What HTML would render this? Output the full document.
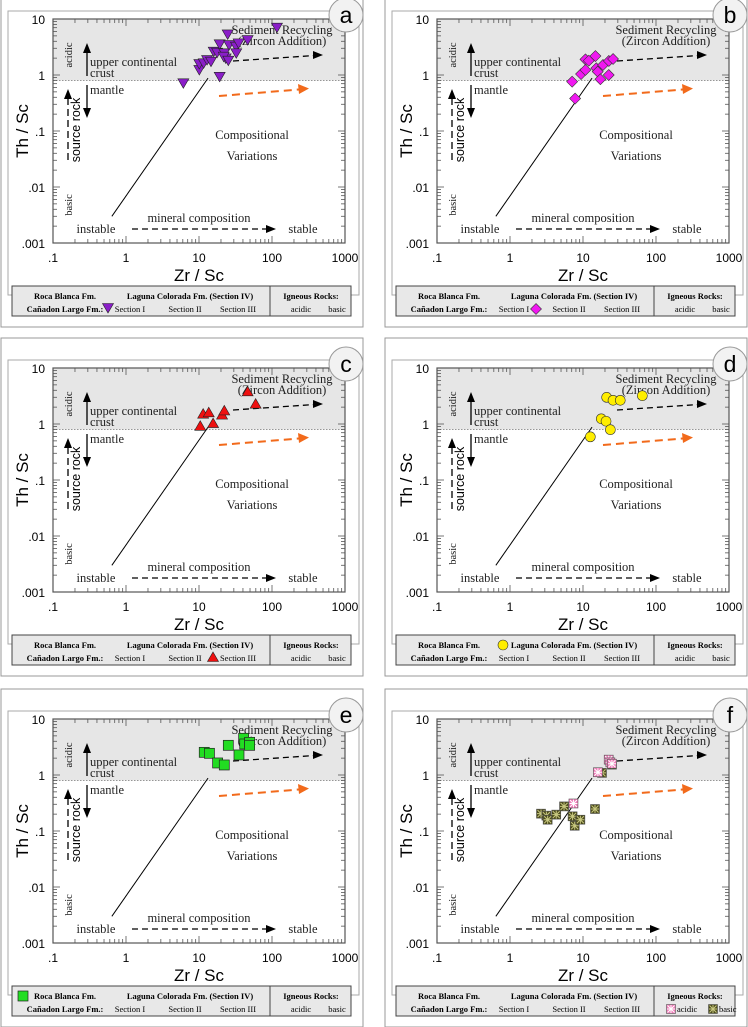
<!DOCTYPE html>
<html><head><meta charset="utf-8">
<style>
html,body{margin:0;padding:0;background:#fff;}
svg{display:block;}
.ser{font-family:"Liberation Serif",serif;}
.san{font-family:"Liberation Sans",sans-serif;}
</style></head>
<body>
<svg id="fig" width="748" height="1027" viewBox="0 0 748 1027" xmlns="http://www.w3.org/2000/svg"></svg>
<script>
// ---- data (Zr/Sc, Th/Sc) ----
const xTicks = [0.1, 1, 10, 100, 1000];
const xTickLabels = [".1", "1", "10", "100", "1000"];
const yTicks = [10, 1, 0.1, 0.01, 0.001];
const yTickLabels = ["10", "1", ".1", ".01", ".001"];
const bandLimit = 0.8;
const trendX = [0.64, 13.3];
const trendY = [0.003, 0.88];

const aX = [6.1,19.2,10.1,10.1,11.6,12.9,14.6,15.9,17.7,19.2,22.2,23.2,21.8,25.2,24.7,25.8,32.1,32.4,34.9,46.4,117];
const aY = [0.71,0.93,1.23,1.57,1.62,1.85,1.73,2.61,2.5,3.53,2.44,1.98,2.12,1.8,5.3,3.43,3.2,2.44,3.67,4.2,7.0];
const bX = [7.1,7.8,9.4,10.8,10.8,12.0,14.8,15.2,15.9,17.3,18.8,22.5,22.6,25.8];
const bY = [0.76,0.38,1.04,1.23,1.9,1.8,2.18,1.32,1.15,0.84,1.51,1.0,1.78,1.93];
const cX = [10.4,11.4,13.6,15.6,20.7,22.2,46.4,59.7];
const cY = [0.93,1.53,1.62,1.04,1.47,1.75,3.83,2.31];
const dX = [12.6,17.8,20.7,23.7,21.1,25.8,32.4,65];
const dY = [0.59,1.24,1.12,0.79,2.99,2.65,2.65,3.2];
const eX = [11.8,13.9,18.0,22.2,25.2,35.3,40.9,42.3,49.4,49.4];
const eY = [2.54,2.44,1.64,1.51,3.39,2.28,4.52,3.58,3.83,3.39];
const fAcidX = [7.4,16.0,22.5,23.7,24.9];
const fAcidY = [0.31,1.12,1.88,1.68,1.59];
const fBasicX = [2.66,3.15,3.28,4.3,5.5,7.2,7.7,9.2,14.6,18.2,24.9];
const fBasicY = [0.204,0.188,0.159,0.196,0.275,0.183,0.124,0.159,0.247,1.09,1.53];

const NS = "http://www.w3.org/2000/svg";
const svg = document.getElementById("fig");
function mk(parent, tag, attrs, text) {
  const el = document.createElementNS(NS, tag);
  for (const k in attrs) el.setAttribute(k, attrs[k]);
  if (text !== undefined) el.textContent = text;
  parent.appendChild(el);
  return el;
}
const W = 292, H = 224;
function sx(v) { return (Math.log10(v) + 1) / 4 * W; }
function sy(v) { return (1 - Math.log10(v)) / 4 * H; }

function marker(g, type, cx, cy) {
  let el;
  if (type === "tri") {
    el = mk(g, "polygon", {points: `${cx-5.5},${cy-4.5} ${cx+5.5},${cy-4.5} ${cx},${cy+5}`, fill: "#8a1ec8", stroke: "#222", "stroke-width": 0.6});
  } else if (type === "dia") {
    el = mk(g, "polygon", {points: `${cx},${cy-5.5} ${cx+5.5},${cy} ${cx},${cy+5.5} ${cx-5.5},${cy}`, fill: "#f018f0", stroke: "#333", "stroke-width": 0.6});
  } else if (type === "utri") {
    el = mk(g, "polygon", {points: `${cx-5.5},${cy+4.5} ${cx+5.5},${cy+4.5} ${cx},${cy-5}`, fill: "#ee1010", stroke: "#222", "stroke-width": 0.6});
  } else if (type === "circ") {
    el = mk(g, "circle", {cx: cx, cy: cy, r: 5, fill: "#ffee00", stroke: "#333", "stroke-width": 0.6});
  } else if (type === "sq") {
    el = mk(g, "rect", {x: cx-5, y: cy-5, width: 10, height: 10, fill: "#22dd22", stroke: "#222", "stroke-width": 0.7});
  } else {
    const fill = type === "acid" ? "#f07ab8" : "#4a4a1a";
    const ln = type === "acid" ? "#fff" : "#c8c880";
    el = mk(g, "g", {});
    mk(el, "rect", {x: cx-4.5, y: cy-4.5, width: 9, height: 9, fill: fill, stroke: "#555", "stroke-width": 0.6});
    mk(el, "path", {d: `M${cx-3.5},${cy-3.5}L${cx+3.5},${cy+3.5}M${cx+3.5},${cy-3.5}L${cx-3.5},${cy+3.5}M${cx},${cy-4}V${cy+4}M${cx-4},${cy}H${cx+4}`, stroke: ln, "stroke-width": 1});
  }
  return el;
}

function arrowHead(g, x, y, dir, color) {
  let pts;
  if (dir === "r") pts = `${x},${y} ${x-10},${y-4} ${x-10},${y+4}`;
  else if (dir === "u") pts = `${x},${y} ${x-4},${y+10} ${x+4},${y+10}`;
  else pts = `${x},${y} ${x-4},${y-10} ${x+4},${y-10}`;
  return mk(g, "polygon", {points: pts, fill: color});
}

function panel(ox, oy, letter, series, legendMarks) {
  const g = mk(svg, "g", {transform: `translate(${ox},${oy})`});
  
  

  const outer = mk(g, "rect", {x: -52, y: -30, width: 362, height: 338, fill: "none", stroke: "#999", "stroke-width": 1});
  
  
  const inner = mk(g, "rect", {x: -45, y: -8, width: 351, height: 284, fill: "#fff", stroke: "#aaa", "stroke-width": 1});
  
  

  const band = mk(g, "rect", {x: 0, y: 0, width: W, height: sy(bandLimit), fill: "#e6e6e6"});
  
  
  const bl = mk(g, "line", {x1: 0, x2: W, y1: sy(bandLimit), y2: sy(bandLimit), stroke: "#888", "stroke-width": 0.8, "stroke-dasharray": "1.5,1.5"});
  
  

  const tk = mk(g, "g", {stroke: "#555", "stroke-width": 0.8});
  
  
  for (let d = 0; d < 4; d++) {
    for (let m = 1; m <= 9; m++) {
      const vx = xTicks[d] * m, vy = yTicks[4] * Math.pow(10, d) * m;
      const len = m === 1 ? 7 : 4;
      const X = sx(vx), Y = sy(vy);
      mk(tk, "line", {x1: X, x2: X, y1: H, y2: H - len});
      mk(tk, "line", {x1: X, x2: X, y1: 0, y2: len});
      mk(tk, "line", {x1: 0, x2: len, y1: Y, y2: Y});
      mk(tk, "line", {x1: W, x2: W - len, y1: Y, y2: Y});
    }
  }
  const ax = mk(g, "rect", {x: 0, y: 0, width: W, height: H, fill: "none", stroke: "#555", "stroke-width": 1.2});
  
  

  for (let i = 0; i < xTicks.length; i++) {
    const t = mk(g, "text", {x: sx(xTicks[i]), y: H + 19, "text-anchor": "middle", "font-size": 12, class: "san"}, xTickLabels[i]);
    
    
    const u = mk(g, "text", {x: -8, y: sy(yTicks[i]) + 5, "text-anchor": "end", "font-size": 12, class: "san"}, yTickLabels[i]);
    
    
  }
  const xt = mk(g, "text", {x: W/2, y: H + 38, "text-anchor": "middle", "font-size": 17, class: "san"}, "Zr / Sc");
  
  
  const yt = mk(g, "text", {x: 0, y: 0, transform: `translate(-25,${H/2}) rotate(-90)`, "text-anchor": "middle", "font-size": 17, class: "san"}, "Th / Sc");
  
  

  const an = mk(g, "g", {class: "ser", fill: "#222"});
  
  
  mk(an, "text", {x: 229, y: 15, "text-anchor": "middle", "font-size": 12.5}, "Sediment Recycling");
  mk(an, "text", {x: 229, y: 26, "text-anchor": "middle", "font-size": 12.5}, "(Zircon Addition)");
  mk(an, "text", {x: 0, y: 0, transform: "translate(19,36) rotate(-90)", "text-anchor": "middle", "font-size": 10.5}, "acidic");
  mk(an, "text", {x: 0, y: 0, transform: "translate(19,186) rotate(-90)", "text-anchor": "middle", "font-size": 10.5}, "basic");
  mk(an, "text", {x: 37, y: 47, "font-size": 12.5}, "upper continental");
  mk(an, "text", {x: 37, y: 58, "font-size": 12.5}, "crust");
  mk(an, "text", {x: 37, y: 75, "font-size": 12.5}, "mantle");
  mk(an, "text", {x: 199, y: 120, "text-anchor": "middle", "font-size": 12.5}, "Compositional");
  mk(an, "text", {x: 199, y: 141, "text-anchor": "middle", "font-size": 12.5}, "Variations");
  mk(an, "text", {x: 146, y: 203, "text-anchor": "middle", "font-size": 12.5}, "mineral composition");
  mk(an, "text", {x: 43, y: 214, "text-anchor": "middle", "font-size": 12.5}, "instable");
  mk(an, "text", {x: 250, y: 214, "text-anchor": "middle", "font-size": 12.5}, "stable");
  mk(g, "text", {x: 0, y: 0, transform: "translate(27,111) rotate(-90)", "text-anchor": "middle", "font-size": 12.5, class: "san"}, "source rock");

  const arr = mk(g, "g", {});
  
  
  mk(arr, "line", {x1: 34, x2: 34, y1: 57, y2: 30, stroke: "#000", "stroke-width": 1.3}); arrowHead(arr, 34, 24, "u", "#000");
  mk(arr, "line", {x1: 34, x2: 34, y1: 66, y2: 90, stroke: "#000", "stroke-width": 1.3}); arrowHead(arr, 34, 99, "d", "#000");
  mk(arr, "line", {x1: 15, x2: 15, y1: 141, y2: 78, stroke: "#000", "stroke-width": 1.3, "stroke-dasharray": "7,4"}); arrowHead(arr, 15, 70, "u", "#000");
  mk(arr, "line", {x1: 79, x2: 214, y1: 210, y2: 210, stroke: "#000", "stroke-width": 1.3, "stroke-dasharray": "6,4"}); arrowHead(arr, 223, 210, "r", "#000");
  mk(arr, "line", {x1: 180, x2: 262, y1: 42, y2: 36.5, stroke: "#000", "stroke-width": 1.3, "stroke-dasharray": "6,4"}); arrowHead(arr, 270, 36, "r", "#000");
  mk(arr, "line", {x1: 166, x2: 246, y1: 77, y2: 70.5, stroke: "#f26a1b", "stroke-width": 2, "stroke-dasharray": "8,5"});
  mk(arr, "polygon", {points: "256,69.5 245,65 246,75", fill: "#f26a1b"});

  const tl = mk(g, "line", {x1: sx(trendX[0]), y1: sy(trendY[0]), x2: sx(trendX[1]), y2: sy(trendY[1]), stroke: "#000", "stroke-width": 1});
  
  

  for (const s of series) {
    const sg = mk(g, "g", {});
    
    
    for (let i = 0; i < s.x.length; i++) {
      const m = marker(sg, s.type, sx(s.x[i]), sy(s.y[i]));
      
      
    }
  }

  const lg = mk(g, "g", {class: "ser"});
  
  
  mk(lg, "rect", {x: -41, y: 267, width: 339, height: 30, fill: "#e8e8e8", stroke: "#444", "stroke-width": 1});
  mk(lg, "line", {x1: 217, x2: 217, y1: 267, y2: 297, stroke: "#444", "stroke-width": 1});
  mk(lg, "text", {x: 12, y: 280, "text-anchor": "middle", "font-size": 8.5, "font-weight": "bold"}, "Roca Blanca Fm.");
  mk(lg, "text", {x: 137, y: 280, "text-anchor": "middle", "font-size": 8.5, "font-weight": "bold"}, "Laguna Colorada Fm. (Section IV)");
  mk(lg, "text", {x: 258, y: 280, "text-anchor": "middle", "font-size": 8.5, "font-weight": "bold"}, "Igneous Rocks:");
  mk(lg, "text", {x: 12, y: 293, "text-anchor": "middle", "font-size": 8.5, "font-weight": "bold"}, "Cañadon Largo Fm.:");
  mk(lg, "text", {x: 77, y: 293, "text-anchor": "middle", "font-size": 8.5}, "Section I");
  mk(lg, "text", {x: 132, y: 293, "text-anchor": "middle", "font-size": 8.5}, "Section II");
  mk(lg, "text", {x: 185, y: 293, "text-anchor": "middle", "font-size": 8.5}, "Section III");
  const ig = letter === "f";
  mk(lg, "text", {x: ig ? 240 : 248, y: 293, "text-anchor": ig ? "start" : "middle", "font-size": 8.5}, "acidic");
  mk(lg, "text", {x: ig ? 282 : 284, y: 293, "text-anchor": ig ? "start" : "middle", "font-size": 8.5}, "basic");
  for (const lm of legendMarks) {
    const m = marker(lg, lm.type, lm.x, lm.y);
    
    
  }

  const lc = mk(g, "g", {});
  
  
  mk(lc, "circle", {cx: 293, cy: -4, r: 17, fill: "#f2f2f2", stroke: "#999", "stroke-width": 1});
  mk(lc, "text", {x: 293, y: 4, "text-anchor": "middle", "font-size": 23, class: "san"}, letter);
}

panel(53, 19, "a", [{name: "series-section-i", type: "tri", x: aX, y: aY}], [{type: "tri", x: 55, y: 289}]);
panel(437, 19, "b", [{name: "series-section-ii", type: "dia", x: bX, y: bY}], [{type: "dia", x: 99, y: 290}]);
panel(53, 368, "c", [{name: "series-section-iii", type: "utri", x: cX, y: cY}], [{type: "utri", x: 160, y: 289}]);
panel(437, 368, "d", [{name: "series-laguna-colorada", type: "circ", x: dX, y: dY}], [{type: "circ", x: 66, y: 277}]);
panel(53, 719, "e", [{name: "series-roca-blanca", type: "sq", x: eX, y: eY}], [{type: "sq", x: -30, y: 277}]);
panel(437, 719, "f", [{name: "series-igneous-basic", type: "basic", x: fBasicX, y: fBasicY}, {name: "series-igneous-acidic", type: "acid", x: fAcidX, y: fAcidY}], [{type: "acid", x: 234, y: 290}, {type: "basic", x: 276, y: 290}]);
</script>
</body></html>
